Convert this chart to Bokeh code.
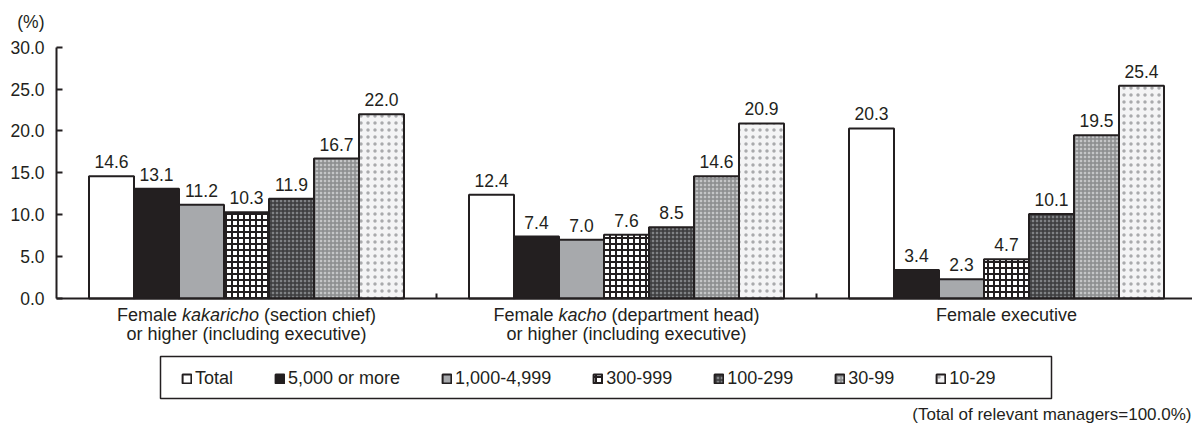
from bokeh.plotting import figure
from bokeh.models import (Range1d, FixedTicker, LinearAxis, NumeralTickFormatter, Label,
                          Legend, LegendItem, ColumnDataSource, BoxAnnotation)
from bokeh.core.properties import value
from bokeh.embed import file_html
from bokeh.resources import INLINE

# ---------------- data ----------------
categories = ["kakaricho", "kacho", "executive"]
series = ["Total", "5,000 or more", "1,000-4,999", "300-999", "100-299", "30-99", "10-29"]
total = [14.6, 12.4, 20.3]
s5000 = [13.1, 7.4, 3.4]
s1000 = [11.2, 7.0, 2.3]
s300 = [10.3, 7.6, 4.7]
s100 = [11.9, 8.5, 10.1]
s30 = [16.7, 14.6, 19.5]
s10 = [22.0, 20.9, 25.4]
values = [total, s5000, s1000, s300, s100, s30, s10]
y_ticks = [0, 5, 10, 15, 20, 25, 30]

# ---------------- styles ----------------
INK = "#231f20"
FONT = "Liberation Sans"
styles = [
    dict(fill_color="white"),
    dict(fill_color=INK),
    dict(fill_color="#a7a9ac"),
    dict(fill_color="white", hatch_pattern="+", hatch_color=INK, hatch_scale=6, hatch_weight=2),
    dict(fill_color="#808285", hatch_pattern="+", hatch_color="#3a3a3c", hatch_scale=4, hatch_weight=1.5),
    dict(fill_color="#c4c5c7", hatch_pattern="+", hatch_color="#8a8b8d", hatch_scale=4, hatch_weight=1.5),
    dict(fill_color="#f4f4f5", hatch_pattern=".", hatch_color="#a9aaac", hatch_scale=7, hatch_weight=1.5),
]

W, H = 1192, 428
axis_x_px, axis_y_px = 56, 298          # position of the axes in the picture
px_per_y = 251.3 / 30.0
group_px = 380.0

x_lo = -axis_x_px / group_px
x_hi = (W - axis_x_px) / group_px
y_lo = -(H - axis_y_px) / px_per_y
y_hi = axis_y_px / px_per_y


def px_x(px):
    return (px - axis_x_px) / group_px


def px_y(py):
    return (axis_y_px - py) / px_per_y


p = figure(width=W, height=H, output_backend="svg", toolbar_location=None,
           x_range=Range1d(x_lo, x_hi), y_range=Range1d(y_lo, y_hi),
           min_border=0, x_axis_type=None, y_axis_type=None)
p.outline_line_color = None
p.xgrid.visible = False
p.ygrid.visible = False
p.background_fill_color = "white"
p.border_fill_color = "white"

# y axis
yax = LinearAxis(ticker=FixedTicker(ticks=y_ticks), formatter=NumeralTickFormatter(format="0.0"),
                 fixed_location=0, bounds=(0, 30))
yax.major_tick_in = 6
yax.major_tick_out = 0
yax.minor_tick_line_color = None
yax.axis_line_width = 2
yax.axis_line_color = INK
yax.major_tick_line_width = 2
yax.major_tick_line_color = INK
yax.major_label_text_font = FONT
yax.major_label_text_font_size = "17.5px"
yax.major_label_text_color = INK
yax.major_label_standoff = 12
p.add_layout(yax, "left")

# x axis (category separators only)
xax = LinearAxis(ticker=FixedTicker(ticks=[1, 2]), fixed_location=0, bounds=(0, x_hi))
xax.major_tick_in = 5
xax.major_tick_out = 0
xax.minor_tick_line_color = None
xax.axis_line_width = 2
xax.axis_line_color = INK
xax.major_tick_line_width = 2
xax.major_tick_line_color = INK
xax.major_label_text_font_size = "0px"
xax.major_label_text_alpha = 0
p.add_layout(xax, "below")

bw = 45.0 / group_px
items = []
for i, (name, vals, st) in enumerate(zip(series, values, styles)):
    xs = [g + 0.5 + (i - 3) * bw for g in range(len(categories))]
    src = ColumnDataSource(dict(x=xs, top=vals, lab=["%.1f" % v for v in vals]))
    r = p.vbar(x="x", top="top", bottom=0, width=bw, source=src,
               line_color=INK, line_width=2, **st)
    p.text(x="x", y="top", text="lab", source=src, text_align="center",
           text_baseline="bottom", y_offset=-8, text_font=value(FONT),
           text_font_size="17.5px", text_color=INK)
    items.append(LegendItem(label=name, renderers=[r]))

# legend frame
p.add_layout(BoxAnnotation(left=px_x(160), right=px_x(1051), top=px_y(356), bottom=px_y(398),
                           fill_color="white", fill_alpha=1, line_color=INK, line_alpha=1,
                           line_width=1.5, level="overlay"))
legend = Legend(items=items, orientation="horizontal", location=(181, 39),
                glyph_width=11, glyph_height=11, label_standoff=3, spacing=41,
                padding=10, border_line_color=None,
                background_fill_alpha=0,
                label_text_font=FONT, label_text_font_size="18px",
                label_text_color=INK, margin=0)
p.add_layout(legend)

# ---------------- category labels (mixed styles) ----------------
ARIAL = {" ": 278, "F": 611, "e": 556, "m": 833, "a": 556, "l": 222, "k": 500, "r": 333,
         "i": 222, "c": 500, "h": 556, "o": 556, "(": 333, ")": 333, "s": 500, "t": 278,
         "n": 556, "f": 278, "d": 556, "p": 556, "x": 500, "u": 556, "v": 500, "g": 556}
FS = 18.0


def text_w(s):
    return sum(ARIAL.get(c, 556) for c in s) * FS / 1000.0


line1_y = px_y(314)
line2_y = px_y(333)

cat_line1 = [["Female ", "kakaricho", " (section chief)"],
             ["Female ", "kacho", " (department head)"],
             ["Female executive"]]
cat_line2 = ["or higher (including executive)", "or higher (including executive)", ""]

for g, parts in enumerate(cat_line1):
    total_w = sum(text_w(s) for s in parts)
    x0 = g + 0.5 - total_w / 2 / group_px
    for j, s in enumerate(parts):
        style = "italic" if (len(parts) == 3 and j == 1) else "normal"
        lead = len(s) - len(s.lstrip(" "))
        shown = s.strip(" ")
        p.add_layout(Label(x=x0 + text_w(" " * lead) / group_px, y=line1_y, text=shown,
                           text_align="left", text_baseline="middle",
                           text_font=FONT, text_font_size="18px", text_color=INK,
                           text_font_style=style))
        x0 += text_w(s) / group_px
    if cat_line2[g]:
        p.add_layout(Label(x=g + 0.5, y=line2_y, text=cat_line2[g], text_align="center",
                           text_baseline="middle", text_font=FONT, text_font_size="18px",
                           text_color=INK))

# unit label
p.add_layout(Label(x=px_x(44), y=px_y(21), text="(%)", text_align="right",
                   text_baseline="middle", text_font=FONT, text_font_size="17.5px", text_color=INK))

# footnote
p.add_layout(Label(x=px_x(1191), y=px_y(414),
                   text="(Total of relevant managers=100.0%)", text_align="right",
                   text_baseline="middle", text_font=FONT, text_font_size="17px", text_color=INK))

open("out.html", "w").write(file_html(p, INLINE))
